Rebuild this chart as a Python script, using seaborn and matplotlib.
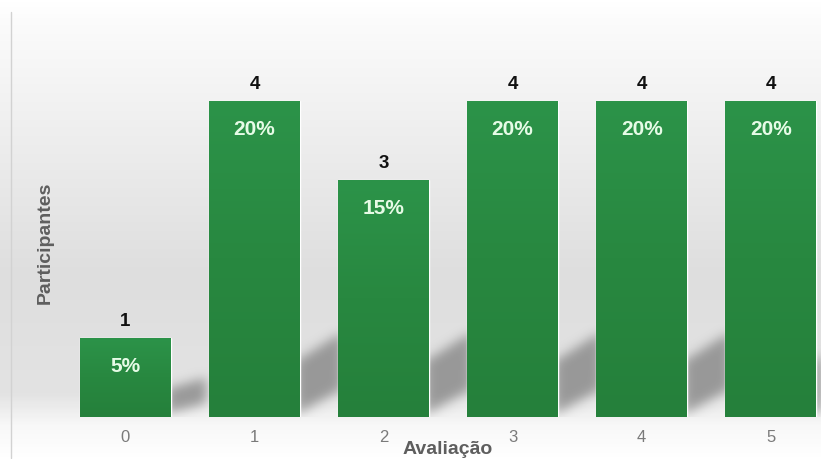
import numpy as np
import pandas as pd
import matplotlib
matplotlib.use("Agg")
import matplotlib.pyplot as plt
import seaborn as sns
from matplotlib.colors import LinearSegmentedColormap
from matplotlib.lines import Line2D

# data
avaliacao = ["0", "1", "2", "3", "4", "5"]
participantes = [1, 4, 3, 4, 4, 4]
percentuais = ["5%", "20%", "15%", "20%", "20%", "20%"]

df = pd.DataFrame({"Avaliação": avaliacao, "Participantes": participantes})

sns.set_theme(style="white")
plt.rcParams["font.family"] = ["Liberation Sans", "DejaVu Sans"]

W, H = 821, 459
fig = plt.figure(figsize=(W / 100, H / 100), dpi=100)

# background gradient (white at top, grey towards the base, white under it)
bg = fig.add_axes([0, 0, 1, 1], zorder=-5)
stops = [(0.0, "#ffffff"), (0.05, "#fbfbfb"), (0.6, "#dedede"), (0.86, "#e3e3e3"),
         (0.93, "#f8f8f8"), (1.0, "#ffffff")]
cmap_bg = LinearSegmentedColormap.from_list("bg", stops)
bg.imshow(np.linspace(0, 1, 300).reshape(-1, 1), cmap=cmap_bg, aspect="auto",
          extent=[0, 1, 0, 1], origin="upper")
bg.set_axis_off()

ax_w, ax_h = 811, 407
ax = fig.add_axes([10 / W, 42 / H, ax_w / W, ax_h / H])
ax.patch.set_alpha(0)

bar_w = 0.705
sns.barplot(data=df, x="Avaliação", y="Participantes", color="#2a8c45",
            width=bar_w, saturation=1, ax=ax, zorder=3)

xlim = (-0.895, 5.39)
ylim = (0, 5.15)

# gradient fill on the bars
cmap_bar = LinearSegmentedColormap.from_list("bar", ["#2c9349", "#288840", "#25803b"])
for p in list(ax.patches):
    x0, y0 = p.get_x(), p.get_y()
    w, hh = p.get_width(), p.get_height()
    im = ax.imshow(np.linspace(0, 1, 100).reshape(-1, 1), cmap=cmap_bar,
                   aspect="auto", extent=[x0, x0 + w, y0, y0 + hh],
                   origin="upper", zorder=3.5)
    im.set_clip_path(p)

# soft shadows cast to the right of each bar (blurred parallelograms)
gx = xlim[0] + (np.arange(ax_w) + 0.5) / ax_w * (xlim[1] - xlim[0])
gy = ylim[1] - (np.arange(ax_h) + 0.5) / ax_h * (ylim[1] - ylim[0])
X, Y = np.meshgrid(gx, gy)
mask = np.zeros_like(X)
gap = 1 - bar_w
for i, h in enumerate(participantes):
    s = min(1.0, h / 2.2)
    xr = i + bar_w / 2
    t = (X - xr) / gap
    inside_x = (X > xr - 0.03) & (X < xr + gap * (0.75 + 0.35 * s))
    bottom = 0.06 + 0.27 * t * s
    top = (0.06 + 0.68 * s) + 0.3 * t * s
    mask[inside_x & (Y > bottom) & (Y < top)] = 1.0


def blur(a, sigma):
    r = int(3 * sigma)
    k = np.exp(-0.5 * (np.arange(-r, r + 1) / sigma) ** 2)
    k /= k.sum()
    a = np.apply_along_axis(lambda v: np.convolve(v, k, mode="same"), 0, a)
    a = np.apply_along_axis(lambda v: np.convolve(v, k, mode="same"), 1, a)
    return a


mask = blur(mask, 5.5)
rgba = np.zeros((ax_h, ax_w, 4))
rgba[..., :3] = 0.42
rgba[..., 3] = mask * 0.62
ax.imshow(rgba, extent=[xlim[0], xlim[1], ylim[0], ylim[1]], aspect="auto",
          origin="upper", zorder=1)

ax.set_xlim(*xlim)
ax.set_ylim(*ylim)

for i, (h, pct) in enumerate(zip(participantes, percentuais)):
    ax.annotate(str(h), (i, h), xytext=(0, 11.5), textcoords="offset points",
                ha="center", va="center", fontsize=13.5, fontweight="bold",
                color="#111111", zorder=5)
    ax.annotate(pct, (i, h), xytext=(0, -20.5), textcoords="offset points",
                ha="center", va="center", fontsize=15, fontweight="bold",
                color="#e6fbe6", zorder=5)

ax.tick_params(axis="x", length=0, pad=9, labelsize=12, labelcolor="#7a7a7a")
ax.set_yticks([])
ax.set_xlabel("")
ax.set_ylabel("")
fig.text(448 / W, 1 - 449 / H, "Avaliação", ha="center", va="center",
         fontsize=14, fontweight="bold", color="#5e5e5e")
fig.text(45 / W, 1 - 243 / H, "Participantes", ha="center", va="center",
         rotation=90, fontsize=14, fontweight="bold", color="#5e5e5e")

for side in ["top", "right", "bottom", "left"]:
    ax.spines[side].set_visible(False)
fig.add_artist(Line2D([10.5 / W, 10.5 / W], [1 - 12 / H, 1 - 458 / H],
                      color="#d2d2d2", linewidth=1))

fig.savefig("out.png", dpi=100)
